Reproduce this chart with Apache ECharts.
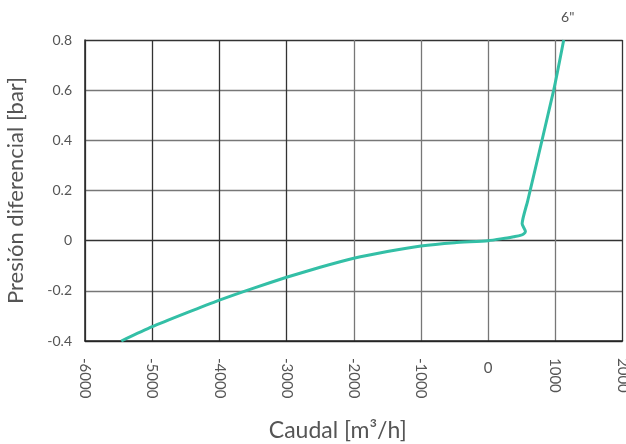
<!DOCTYPE html>
<html><head><meta charset="utf-8">
<script src="https://cdn.jsdelivr.net/npm/echarts@6/dist/echarts.min.js"></script>
<style>html,body{margin:0;padding:0;background:#fff}#c{width:626px;height:444px}</style>
</head><body><div id="c"></div>
<script>
const caudal = [-5460, -5000, -4500, -4000, -3500, -3000, -2500, -2000, -1500, -1000, -500, 0, 230, 380, 480, 530, 555, 506, 589, 976, 1125];
const presion = [-0.4, -0.343, -0.289, -0.237, -0.19, -0.146, -0.106, -0.070, -0.043, -0.021, -0.008, 0, 0.009, 0.016, 0.021, 0.027, 0.037, 0.067, 0.159, 0.6, 0.8];
const seriesLabel = '6"';
const xTitle = 'Caudal [m³/h]';
const yTitle = 'Presión diferencial [bar]';
const xGridColors = ['#555','#333','#333','#333','#777','#777','#777','#777','#333'];
const yGridColors = ['#333','#777','#333','#777','#777','#777','#333'];

const data = caudal.map((x, i) => [x, presion[i]]);
const font = 'Lato, "DejaVu Sans", sans-serif';
const chart = echarts.init(document.getElementById('c'));
chart.setOption({
  animation: false,
  grid: {left: 85, right: 3.5, top: 40, bottom: 103, containLabel: false, outerBoundsMode: 'none'},
  xAxis: [{
    type: 'value', min: -6000, max: 2000, interval: 1000,
    axisLine: {show: true, onZero: false, lineStyle: {color: '#222', width: 1.5}},
    axisTick: {show: false},
    splitLine: {show: true, lineStyle: {color: xGridColors, width: 1.3}},
    axisLabel: {rotate: -90, margin: 17, color: '#555', fontSize: 15, fontFamily: font,
      formatter: v => v === 0 ? '' : String(v)},
    name: xTitle, nameLocation: 'middle', nameGap: 78,
    nameTextStyle: {color: '#555', fontSize: 23, fontFamily: font, padding: [0, 32, 0, 0]}
  }, {
    type: 'value', min: -6000, max: 2000, interval: 1000, position: 'bottom',
    axisLine: {show: false}, axisTick: {show: false}, splitLine: {show: false},
    axisLabel: {margin: 20, color: '#555', fontSize: 15, fontFamily: font,
      formatter: v => v === 0 ? '0' : ''}
  }],
  yAxis: {
    type: 'value', min: -0.4, max: 0.8, interval: 0.2,
    axisLine: {show: true, onZero: false, lineStyle: {color: '#222', width: 1.5}},
    axisTick: {show: false},
    splitLine: {show: true, lineStyle: {color: yGridColors, width: 1.3}},
    axisLabel: {margin: 13, color: '#555', fontSize: 14, fontFamily: font,
      formatter: v => String(Math.round(v * 10) / 10)},
    name: yTitle, nameLocation: 'middle', nameGap: 58,
    nameTextStyle: {color: '#555', fontSize: 22, fontFamily: font}
  },
  series: [{
    type: 'line', data: data, smooth: 0.2, symbol: 'none',
    lineStyle: {color: '#33BFA6', width: 3},
    markPoint: {
      symbol: 'circle', symbolSize: 0,
      data: [{coord: data[data.length - 1], value: seriesLabel}],
      label: {show: true, position: 'top', distance: 16, formatter: seriesLabel,
        color: '#555', fontSize: 14, fontFamily: font, offset: [4, 0]}
    }
  }]
});
</script></body></html>
